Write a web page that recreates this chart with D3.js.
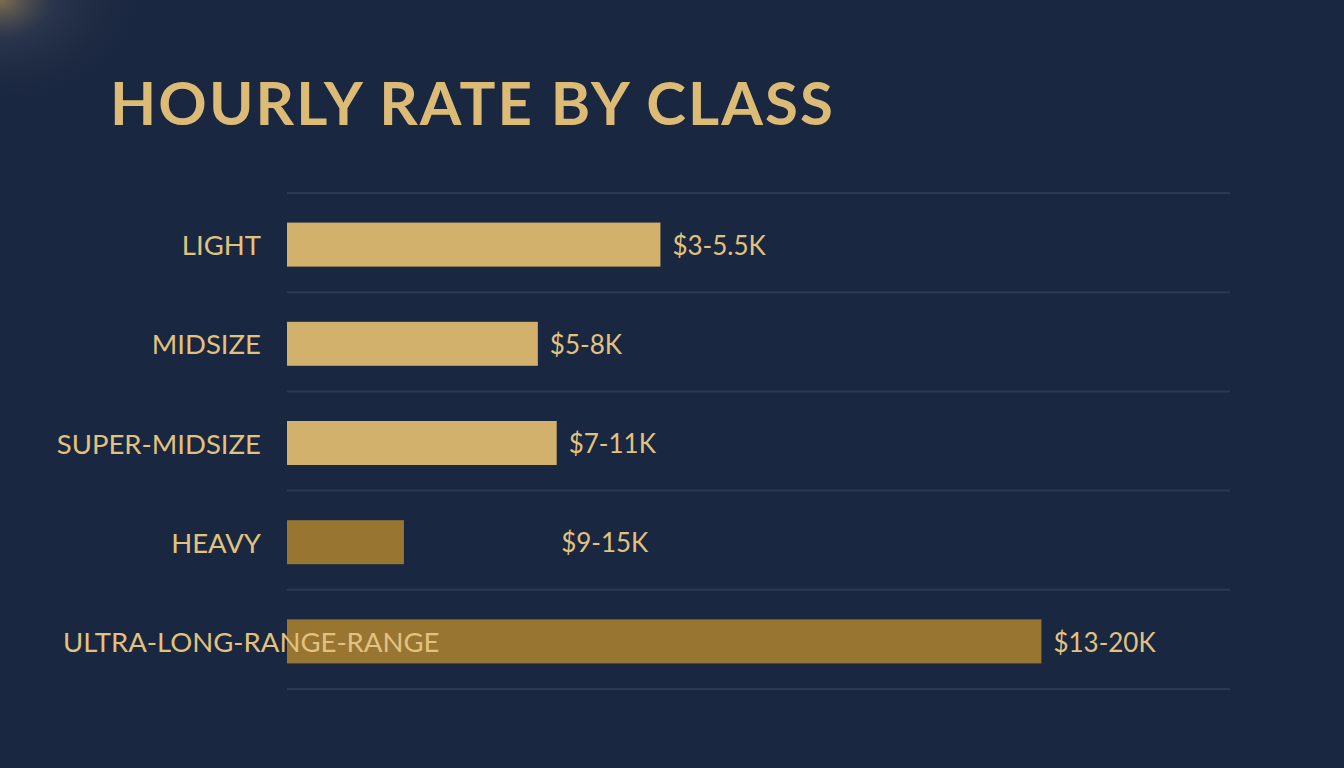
<!DOCTYPE html>
<html>
  <head>
    <script src="https://cdn.jsdelivr.net/npm/d3@7"></script>
    <style>
      html, body { margin: 0; padding: 0; background: #1a2740; }
      svg { display: block; }
    </style>
  </head>
  <body>
    <svg id="chart" width="1344" height="768"></svg>
    <script>
    // data
    var classes = ["LIGHT", "MIDSIZE", "SUPER-MIDSIZE", "HEAVY", "ULTRA-LONG-RANGE-RANGE"];
    var barValues = [9.9, 6.65, 7.15, 3.1, 20];
    var rateLabels = ["$3-5.5K", "$5-8K", "$7-11K", "$9-15K", "$13-20K"];
    var labelAt = [9.9, 6.65, 7.15, 6.95, 20];
    var darkClass = ["HEAVY", "ULTRA-LONG-RANGE-RANGE"];

    var svg = d3.select("#chart");
    var gold = "#e2c27f";

    var defs = svg.append("defs");
    var glow = defs.append("radialGradient").attr("id", "glow")
      .attr("cx", 0).attr("cy", 0).attr("r", 1);
    glow.append("stop").attr("offset", "0%").attr("stop-color", "#8a7650").attr("stop-opacity", 0.9);
    glow.append("stop").attr("offset", "35%").attr("stop-color", "#3a4458").attr("stop-opacity", 0.5);
    glow.append("stop").attr("offset", "100%").attr("stop-color", "#1a2740").attr("stop-opacity", 0);

    svg.append("rect").attr("width", 1344).attr("height", 768).attr("fill", "#1a2740");
    svg.append("rect").attr("width", 150).attr("height", 110).attr("fill", "url(#glow)");

    svg.append("text")
      .attr("x", 110).attr("y", 125)
      .attr("fill", "#dcbb76")
      .style("font-family", "Lato, 'Open Sans', sans-serif")
      .style("font-weight", 700)
      .style("font-size", "60px")
      .attr("textLength", 723)
      .text("HOURLY RATE BY CLASS");

    var x = d3.scaleLinear().domain([0, 25]).range([287, 1230]);
    var y = d3.scaleBand().domain(classes).range([193, 689]);
    var barH = 44;

    var g = svg.append("g");

    // row separators
    var seps = y.domain().map(function(d){ return y(d); }).concat([y.range()[1]]);
    g.selectAll("line.sep").data(seps).enter().append("line")
      .attr("class", "sep")
      .attr("x1", x(0)).attr("x2", x(25))
      .attr("y1", function(d){ return d; }).attr("y2", function(d){ return d; })
      .attr("stroke", "#2b3954").attr("stroke-width", 2);

    var rows = classes.map(function(c, i){
      return {name: c, value: barValues[i], label: rateLabels[i], at: labelAt[i]};
    });

    g.selectAll("rect.bar").data(rows).enter().append("rect")
      .attr("class", "bar")
      .attr("x", x(0))
      .attr("y", function(d){ return y(d.name) + y.bandwidth() / 2 - barH / 2 + 2; })
      .attr("width", function(d){ return x(d.value) - x(0); })
      .attr("height", barH)
      .attr("fill", function(d){ return darkClass.indexOf(d.name) >= 0 ? "#987632" : "#d2b16d"; });

    g.selectAll("text.val").data(rows).enter().append("text")
      .attr("class", "val")
      .attr("x", function(d){ return x(d.at) + 12; })
      .attr("y", function(d){ return y(d.name) + y.bandwidth() / 2 + 3; })
      .attr("dy", "0.35em")
      .attr("fill", gold)
      .style("font-family", "Lato, sans-serif")
      .style("font-size", "26px")
      .text(function(d){ return d.label; });

    g.selectAll("text.cat").data(rows).enter().append("text")
      .attr("class", "cat")
      .attr("x", function(d, i){ return i === 4 ? 63 : 261; })
      .attr("y", function(d){ return y(d.name) + y.bandwidth() / 2 + 3; })
      .attr("dy", "0.35em")
      .attr("text-anchor", function(d, i){ return i === 4 ? "start" : "end"; })
      .attr("fill", gold)
      .style("font-family", "Lato, sans-serif")
      .style("font-size", "27.5px")
      .text(function(d){ return d.name; });
    </script>
  </body>
</html>
